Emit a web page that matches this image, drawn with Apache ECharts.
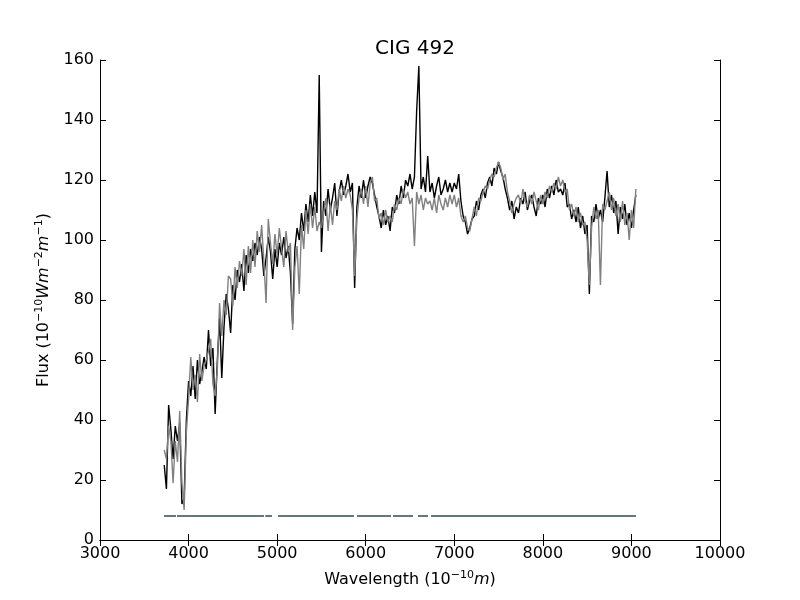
<!DOCTYPE html>
<html lang="en">
<head>
    <meta charset="UTF-8">
    <title>CIG 492</title>
    <script src="https://cdn.jsdelivr.net/npm/echarts@6/dist/echarts.min.js"></script>
    <style>
        html, body {
            margin: 0;
            padding: 0;
            background-color: #ffffff;
        }
        #chart {
            width: 800px;
            height: 600px;
        }
    </style>
</head>
<body>
    <div id="chart"></div>
    <script>
        // wavelength grid (Angstrom)
        var wavelengths = [
            3725, 3750, 3775, 3800, 3825, 3850, 3875, 3900, 3925, 3950,
            3975, 4000, 4025, 4050, 4075, 4100, 4125, 4150, 4175, 4200,
            4225, 4250, 4275, 4300, 4325, 4350, 4375, 4400, 4425, 4450,
            4475, 4500, 4525, 4550, 4575, 4600, 4625, 4650, 4675, 4700,
            4725, 4750, 4775, 4800, 4825, 4850, 4875, 4900, 4925, 4950,
            4975, 5000, 5025, 5050, 5075, 5100, 5125, 5150, 5175, 5200,
            5225, 5250, 5275, 5300, 5325, 5350, 5375, 5400, 5425, 5450,
            5475, 5500, 5525, 5550, 5575, 5600, 5625, 5650, 5675, 5700,
            5725, 5750, 5775, 5800, 5825, 5850, 5875, 5900, 5925, 5950,
            5975, 6000, 6025, 6050, 6075, 6100, 6125, 6150, 6175, 6200,
            6225, 6250, 6275, 6300, 6325, 6350, 6375, 6400, 6425, 6450,
            6475, 6500, 6525, 6550, 6575, 6600, 6625, 6650, 6675, 6700,
            6725, 6750, 6775, 6800, 6825, 6850, 6875, 6900, 6925, 6950,
            6975, 7000, 7025, 7050, 7075, 7100, 7125, 7150, 7175, 7200,
            7225, 7250, 7275, 7300, 7325, 7350, 7375, 7400, 7425, 7450,
            7475, 7500, 7525, 7550, 7575, 7600, 7625, 7650, 7675, 7700,
            7725, 7750, 7775, 7800, 7825, 7850, 7875, 7900, 7925, 7950,
            7975, 8000, 8025, 8050, 8075, 8100, 8125, 8150, 8175, 8200,
            8225, 8250, 8275, 8300, 8325, 8350, 8375, 8400, 8425, 8450,
            8475, 8500, 8525, 8550, 8575, 8600, 8625, 8650, 8675, 8700,
            8725, 8750, 8775, 8800, 8825, 8850, 8875, 8900, 8925, 8950,
            8975, 9000, 9025, 9050
        ];

        // observed spectrum (black)
        var fluxObserved = [
            25, 17, 45, 37, 27, 38, 33, 39, 12, 14,
            40, 53, 48, 58, 47, 60, 52, 56, 61, 57,
            70, 58, 64, 42, 60, 74, 54, 71, 82, 77,
            69, 85, 80, 90, 86, 92, 83, 95, 89, 97,
            93, 99, 95, 101, 97, 88, 94, 101, 96, 87,
            97, 91, 99, 95, 101, 94, 98, 89, 72, 97,
            104, 100, 109, 103, 112, 106, 115, 108, 116, 109,
            155, 96, 113, 108, 117, 110, 114, 119, 108, 116,
            120, 115, 118, 122, 116, 119, 84, 111, 118, 114,
            120, 114, 118, 121, 119, 115, 111, 108, 104, 110,
            105, 108, 103, 111, 109, 115, 112, 118, 114, 120,
            118, 122, 117, 121, 143, 158, 117, 121, 116, 128,
            116, 119, 114, 118, 121, 115, 117, 120, 116, 119,
            116, 119, 117, 122, 113, 108, 106, 102, 104, 107,
            108, 113, 110, 115, 117, 114, 119, 121, 118, 124,
            122, 126, 123, 121, 117, 114, 110, 113, 107, 111,
            109, 114, 112, 116, 110, 113, 115, 111, 108, 114,
            112, 115, 111, 117, 114, 118, 115, 120, 116, 117,
            115, 119, 111, 112, 107, 110, 106, 111, 104, 108,
            102, 105, 82, 108, 106, 112, 107, 110, 106, 114,
            123, 111, 115, 109, 113, 102, 111, 107, 112, 105,
            109, 104, 110, 115
        ];

        // model fit (gray)
        var fluxModel = [
            30, 27, 38, 33, 19, 33, 26, 43, 19, 10,
            36, 47, 61, 50, 55, 46, 62, 53, 58, 60,
            63, 67, 52, 48, 57, 79, 68, 80, 75, 88,
            87, 78, 91, 84, 93, 88, 97, 85, 98, 89,
            100, 91, 103, 96, 105, 93, 79, 107, 99, 92,
            102, 95, 104, 97, 91, 103, 96, 99, 70, 91,
            98, 82, 105, 97, 110, 102, 112, 104, 111, 103,
            106, 104, 109, 114, 103, 112, 105, 113, 110, 117,
            113, 118, 114, 117, 115, 110, 88, 107, 114, 117,
            112, 118, 111, 119, 121, 113, 114, 107, 109, 105,
            110, 106, 108, 106, 112, 110, 114, 112, 117, 114,
            116, 112, 114, 98, 116, 112, 115, 110, 114, 112,
            113, 110, 114, 109, 115, 112, 110, 114, 111, 115,
            112, 115, 111, 114, 108, 106, 108, 104, 103, 107,
            111, 108, 114, 113, 116, 118, 117, 120, 122, 121,
            124, 126, 124, 120, 122, 116, 113, 109, 112, 114,
            115, 112, 117, 113, 111, 115, 112, 116, 113, 110,
            115, 112, 116, 114, 118, 116, 119, 117, 121, 118,
            120, 116, 117, 110, 112, 108, 111, 106, 109, 105,
            106, 100, 85, 104, 111, 107, 110, 85, 112, 110,
            113, 116, 110, 114, 108, 112, 106, 113, 105, 109,
            100, 110, 104, 117
        ];

        // masked-region bar: good-pixel segments [start, end]
        var maskSegments = [
            [3723, 3858], [3869, 4852], [4866, 4942], [5010, 5868],
            [5902, 6286], [6308, 6534], [6590, 6703], [6737, 9052]
        ];
        var maskLevel = 8;

        var xTicks = [3000, 10000, 1000];
        var yTicks = [0, 160, 20];

        var chart = echarts.init(document.getElementById('chart'));

        var font = 'DejaVu Sans';
        var axisLine = { lineStyle: { color: '#000', width: 1 } };
        var axisTick = { inside: true, length: 6, lineStyle: { color: '#000', width: 1 } };
        var plain = function (v) { return String(v); };
        var nameRich = {
            n: { fontFamily: font, fontSize: 16, color: '#000' },
            i: { fontFamily: font, fontSize: 16, fontStyle: 'italic', color: '#000' },
            s: { fontFamily: font, fontSize: 11, color: '#000', padding: [0, 0, 9, 0] }
        };

        var series = [
            {
                name: 'observed',
                type: 'line',
                data: wavelengths.map(function (w, i) { return [w, fluxObserved[i]]; }),
                symbol: 'none',
                lineStyle: { color: '#000000', width: 1.4 },
                z: 2
            },
            {
                name: 'model',
                type: 'line',
                data: wavelengths.map(function (w, i) { return [w, fluxModel[i]]; }),
                symbol: 'none',
                lineStyle: { color: '#808080', width: 1.4 },
                z: 3
            }
        ];
        maskSegments.forEach(function (seg) {
            series.push({
                type: 'line',
                data: [[seg[0], maskLevel], [seg[1], maskLevel]],
                symbol: 'none',
                lineStyle: { color: '#66767e', width: 2 },
                z: 4
            });
        });

        chart.setOption({
            animation: false,
            backgroundColor: '#ffffff',
            title: {
                text: 'CIG 492',
                left: 410,
                textAlign: 'center',
                top: 34,
                textStyle: { fontFamily: font, fontSize: 20, fontWeight: 'normal', color: '#000' }
            },
            grid: { left: 100, right: 80, top: 60, bottom: 60 },
            xAxis: [
                {
                    type: 'value',
                    min: xTicks[0], max: xTicks[1], interval: xTicks[2],
                    position: 'bottom',
                    axisLine: axisLine, axisTick: axisTick,
                    splitLine: { show: false },
                    axisLabel: { color: '#000', fontFamily: font, fontSize: 16, margin: 6, formatter: plain },
                    name: '{n|Wavelength (10}{s|−10}{i|m}{n|)}',
                    nameLocation: 'middle',
                    nameGap: 30,
                    nameTextStyle: { rich: nameRich }
                },
                {
                    type: 'value',
                    min: xTicks[0], max: xTicks[1], interval: xTicks[2],
                    position: 'top',
                    axisLine: axisLine, axisTick: axisTick,
                    splitLine: { show: false },
                    axisLabel: { show: false }
                }
            ],
            yAxis: [
                {
                    type: 'value',
                    min: yTicks[0], max: yTicks[1], interval: yTicks[2],
                    position: 'left',
                    axisLine: { show: true, lineStyle: { color: '#000', width: 1 } },
                    axisTick: axisTick,
                    splitLine: { show: false },
                    axisLabel: { color: '#000', fontFamily: font, fontSize: 16, margin: 6, formatter: plain },
                    name: '{n|Flux (10}{s|−10}{i|Wm}{s|−2}{i|m}{s|−1}{n|)}',
                    nameLocation: 'middle',
                    nameGap: 46,
                    nameTextStyle: { rich: nameRich }
                },
                {
                    type: 'value',
                    min: yTicks[0], max: yTicks[1], interval: yTicks[2],
                    position: 'right',
                    axisLine: { show: true, lineStyle: { color: '#000', width: 1 } },
                    axisTick: axisTick,
                    splitLine: { show: false },
                    axisLabel: { show: false }
                }
            ],
            series: series
        });
    </script>
</body>
</html>
